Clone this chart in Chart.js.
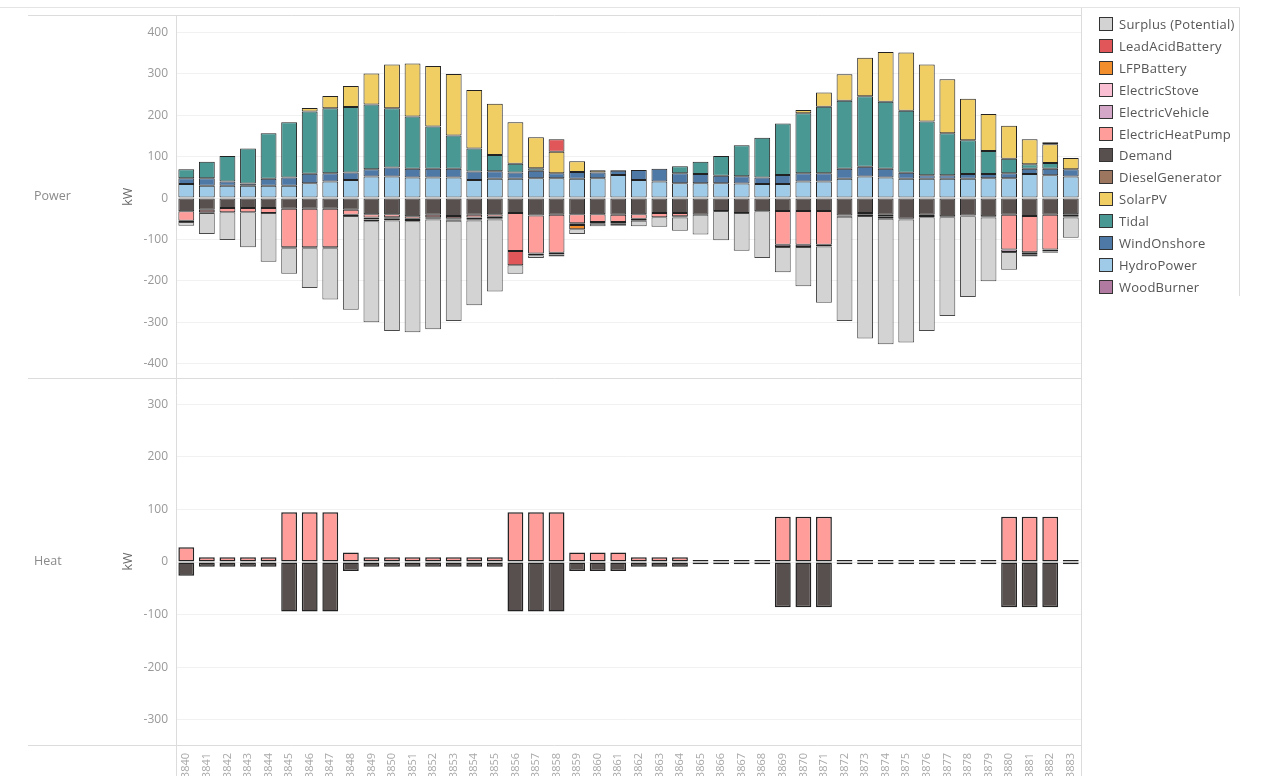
<!DOCTYPE html>
<html>
<head>
<meta charset="utf-8">
<title>Power and heat balance</title>
<script src="https://cdn.jsdelivr.net/npm/chart.js@4.4.0/dist/chart.umd.min.js"></script>
<style>
  html, body { margin: 0; padding: 0; background: #fff; }
  #page { position: relative; width: 1263px; height: 776px; overflow: hidden; font-family: 'Open Sans', sans-serif; }
  #chartBox { position: absolute; left: 0; top: 0; width: 1084px; height: 776px; }
  #topRule { position: absolute; left: 0; top: 7px; width: 1240px; height: 1px; background: #e4e4e4; }
  #legend { position: absolute; left: 1083px; top: 8px; width: 156px; height: 288px; border-right: 1px solid #dcdcdc; }
  .item { position: absolute; left: 16px; height: 14px; display: flex; align-items: center; font-size: 13px; letter-spacing: 0.25px; color: #555; white-space: nowrap; }
  .swatch { width: 14px; height: 14px; box-sizing: border-box; border: 1px solid #333; margin-right: 6px; flex: none; }
</style>
</head>
<body>
<div id="page">
  <div id="topRule"></div>
  <div id="chartBox"><canvas id="balanceChart"></canvas></div>
  <div id="legend"></div>
</div>
<script>
// hour index on the x axis
const hours = ['3840','3841','3842','3843','3844','3845','3846','3847','3848','3849',
               '3850','3851','3852','3853','3854','3855','3856','3857','3858','3859',
               '3860','3861','3862','3863','3864','3865','3866','3867','3868','3869',
               '3870','3871','3872','3873','3874','3875','3876','3877','3878','3879',
               '3880','3881','3882','3883'];

const powerTicks = [-400, -300, -200, -100, 0, 100, 200, 300, 400];
const heatTicks = [-300, -200, -100, 0, 100, 200, 300];

// --- Power (kW): generation is positive, consumption negative ---
const hydroPower = [34,30,30,30,30,30,36,40,44,52, 52,50,50,50,44,47,47,48,48,47,
                    48,56,44,40,36,36,36,35,34,34, 40,40,47,52,50,47,47,47,47,48,
                    48,58,55,52];
const windOnshore = [14,18,10,5,17,20,23,20,18,18, 22,21,21,21,20,18,15,18,12,16,
                     14,10,24,31,24,22,18,18,16,22, 20,20,24,24,21,14,8,8,11,10,
                     12,13,16,18];
const tidal = [22,40,62,85,110,133,150,157,158,156, 143,126,102,80,56,39,21,6,0,0,
               0,0,0,0,17,30,48,75,96,124, 145,161,164,170,162,150,130,102,82,56,
               35,11,14,0];
const solarPV = [0,0,0,0,0,0,9,30,51,75, 106,128,146,149,141,124,100,75,52,26,
                 5,2,0,0,0,0,0,0,0,0, 8,34,64,93,120,141,138,130,100,89,
                 80,60,45,27];
const leadAcidBattery = [0,0,0,0,0,0,0,0,0,0, 0,0,0,0,0,0,-34,0,30,0,
                         0,0,0,0,0,0,0,0,0,0, 0,0,0,0,0,0,0,0,0,0,
                         0,0,5,0];
const lfpBattery = [0,0,0,0,0,0,0,0,0,0, 0,0,0,0,0,0,0,0,0,-10,
                    0,0,0,0,0,0,0,0,0,0, 0,0,0,0,0,0,0,0,0,0,
                    0,0,0,0];
const demand = [-32,-28,-24,-24,-24,-26,-26,-26,-28,-39, -39,-44,-40,-43,-40,-39,-36,-42,-40,-39,
                -39,-40,-39,-36,-36,-40,-31,-36,-32,-31, -31,-31,-42,-36,-40,-50,-40,-44,-42,-44,
                -40,-43,-40,-39];
const electricHeatPump = [-23,-6,-10,-10,-12,-93,-93,-93,-12,-8, -7,-6,-6,-6,-7,-6,-92,-92,-92,-22,
                          -19,-18,-11,-10,-8,0,0,0,0,-82, -82,-82,0,0,0,0,0,0,0,0,
                          -84,-88,-84,0];
const electricVehicle = [-3,-2,0,0,0,-2,-2,-2,-3,-5, -4,-3,-3,-3,-4,-4,0,-4,-4,-4,
                         -4,-4,-5,0,-3,0,0,0,0,-5, -5,-4,-3,-4,-5,-2,-3,-2,-2,-3,
                         -6,-4,-5,-5];
const electricStove = [0,0,0,0,0,0,0,0,0,-4, -4,-3,-3,-3,-3,-3,0,0,0,0,
                       0,0,0,0,0,0,0,0,0,0, 0,0,0,-3,-5,0,-3,0,0,0,
                       0,-2,0,-3];
const surplus = [-9,-51,-67,-85,-118,-62,-96,-124,-227,-244, -267,-268,-265,-242,-205,-174,-21,-7,-5,-12,
                 -6,-5,-13,-23,-32,-48,-71,-91,-113,-61, -95,-136,-252,-296,-303,-297,-275,-239,-195,-154,
                 -43,-4,-3,-49];

// --- Heat (kW) ---
const heatPumpHeat = [28,9,9,9,9,95,95,95,18,9, 9,9,9,9,9,9,95,95,95,18,
                      18,18,9,9,9,4,4,4,4,86, 86,86,4,4,4,4,4,4,4,4,
                      86,86,86,4];
const heatDemand = [-26,-9,-9,-9,-9,-94,-94,-94,-17,-9, -9,-9,-9,-9,-9,-9,-94,-94,-94,-17,
                    -17,-17,-9,-9,-9,-4,-4,-4,-4,-86, -86,-86,-4,-4,-4,-4,-4,-4,-4,-4,
                    -86,-86,-86,-4];

const legendOrder = ['Surplus (Potential)', 'LeadAcidBattery', 'LFPBattery', 'ElectricStove',
                     'ElectricVehicle', 'ElectricHeatPump', 'Demand', 'DieselGenerator',
                     'SolarPV', 'Tidal', 'WindOnshore', 'HydroPower', 'WoodBurner'];

const colours = {
    'Surplus (Potential)': '#d3d3d3',
    'LeadAcidBattery': '#e15759',
    'LFPBattery': '#f28e2b',
    'ElectricStove': '#fabfd2',
    'ElectricVehicle': '#d4a6c8',
    'ElectricHeatPump': '#ff9d9a',
    'Demand': '#57504e',
    'DieselGenerator': '#9d7660',
    'SolarPV': '#f1ce63',
    'Tidal': '#499894',
    'WindOnshore': '#4e79a7',
    'HydroPower': '#a0cbe8',
    'WoodBurner': '#b07aa1'
};

function barSet(name, values, axis) {
    return {
        label: name,
        data: values.map(v => v === 0 ? null : v),
        yAxisID: axis,
        backgroundColor: colours[name],
        borderColor: name === 'Surplus (Potential)' ? '#4a4a4a' : '#222',
        borderWidth: axis === 'yHeat' ? 1.5 : 1,
        borderSkipped: false,
        categoryPercentage: 1,
        barPercentage: 0.77
    };
}

// stacking order: first dataset sits next to zero
const datasets = [
    barSet('HydroPower', hydroPower, 'yPower'),
    barSet('WindOnshore', windOnshore, 'yPower'),
    barSet('Tidal', tidal, 'yPower'),
    barSet('SolarPV', solarPV, 'yPower'),
    barSet('Demand', demand, 'yPower'),
    barSet('ElectricHeatPump', electricHeatPump, 'yPower'),
    barSet('ElectricVehicle', electricVehicle, 'yPower'),
    barSet('ElectricStove', electricStove, 'yPower'),
    barSet('LFPBattery', lfpBattery, 'yPower'),
    barSet('LeadAcidBattery', leadAcidBattery, 'yPower'),
    barSet('Surplus (Potential)', surplus, 'yPower'),
    barSet('ElectricHeatPump', heatPumpHeat, 'yHeat'),
    barSet('Demand', heatDemand, 'yHeat')
];

// Row headers, kW titles and the frame lines of the two panels
const panelFrame = {
    id: 'panelFrame',
    afterDraw(chart) {
        const { ctx, chartArea } = chart;
        const power = chart.scales.yPower;
        const heat = chart.scales.yHeat;
        const px = v => Math.round(v) + 0.5;
        ctx.save();
        ctx.strokeStyle = '#dcdcdc';
        ctx.lineWidth = 1;
        const hline = (y, x0, x1) => { ctx.beginPath(); ctx.moveTo(x0, px(y)); ctx.lineTo(x1, px(y)); ctx.stroke(); };
        const vline = (x, y0, y1) => { ctx.beginPath(); ctx.moveTo(px(x), y0); ctx.lineTo(px(x), y1); ctx.stroke(); };
        hline(power.top, 28, chartArea.right);
        hline(power.bottom, 28, chartArea.right);
        hline(heat.bottom, 28, chartArea.right);
        vline(chartArea.left, power.top, chart.height);
        vline(chartArea.right, 8, chart.height);

        ctx.font = '12.5px "Open Sans", sans-serif';
        ctx.textBaseline = 'middle';
        [[power, 'Power'], [heat, 'Heat']].forEach(([scale, name]) => {
            const mid = (scale.top + scale.bottom) / 2;
            ctx.fillStyle = '#8a8a8a';
            ctx.textAlign = 'left';
            ctx.fillText(name, 34, mid);
            ctx.save();
            ctx.translate(128, mid);
            ctx.rotate(-Math.PI / 2);
            ctx.fillStyle = '#666';
            ctx.textAlign = 'center';
            ctx.fillText('kW', 0, 0);
            ctx.restore();
        });
        ctx.restore();
    }
};

function valueAxis(min, max, tickValues, weight, stackWeight) {
    return {
        type: 'linear',
        position: 'left',
        stack: 'panels',
        stackWeight: stackWeight,
        weight: weight,
        stacked: true,
        min: min,
        max: max,
        afterBuildTicks: scale => { scale.ticks = tickValues.map(v => ({ value: v })); },
        ticks: {
            color: '#999',
            font: { size: 12 },
            padding: 8
        },
        grid: { color: '#f1f1f1', drawTicks: false },
        border: { display: false },
        afterFit: scale => { scale.width = 176; }
    };
}

Chart.defaults.font.family = "'Open Sans', sans-serif";

new Chart(document.getElementById('balanceChart'), {
    type: 'bar',
    data: { labels: hours, datasets: datasets },
    options: {
        animation: false,
        responsive: true,
        maintainAspectRatio: false,
        layout: { padding: { top: 15, right: 1, left: 0, bottom: 0 } },
        plugins: {
            legend: { display: false },
            tooltip: { enabled: false }
        },
        scales: {
            x: {
                stacked: true,
                grid: { display: false },
                border: { display: false },
                ticks: {
                    autoSkip: false,
                    minRotation: 90,
                    maxRotation: 90,
                    color: '#a8a8a8',
                    font: { size: 11 },
                    padding: 0
                },
                afterFit: scale => { scale.height = 31; }
            },
            yHeat: valueAxis(-348, 350, heatTicks, 0, 367),
            yPower: valueAxis(-435, 442, powerTicks, 1, 363)
        }
    },
    plugins: [panelFrame]
});

// Legend
const legend = document.getElementById('legend');
legendOrder.forEach((name, i) => {
    const item = document.createElement('div');
    item.className = 'item';
    item.style.top = (9 + i * 21.9) + 'px';
    const sw = document.createElement('span');
    sw.className = 'swatch';
    sw.style.background = colours[name];
    const txt = document.createElement('span');
    txt.textContent = name;
    item.appendChild(sw);
    item.appendChild(txt);
    legend.appendChild(item);
});
</script>
</body>
</html>
